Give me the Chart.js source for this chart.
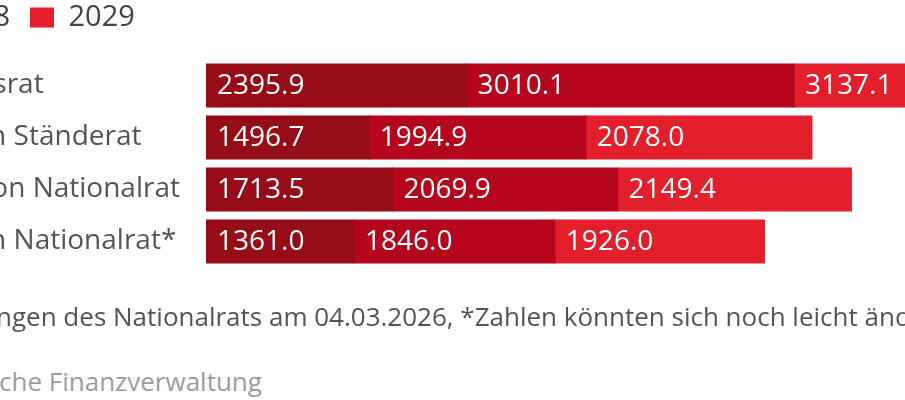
<!DOCTYPE html>
<html>
<head>
<meta charset="utf-8">
<script src="https://cdn.jsdelivr.net/npm/chart.js@4.4.1/dist/chart.umd.min.js"></script>
<style>
  html, body { margin: 0; padding: 0; width: 905px; height: 400px; overflow: hidden; background: #ffffff; }
  #wrap { position: absolute; top: 0; }
  .foot { position: absolute; white-space: nowrap; font-family: "Open Sans", sans-serif; font-size: 26px; line-height: 26px; }
</style>
</head>
<body>
<div id="wrap"><canvas id="c"></canvas></div>
<div id="f1" class="foot" style="color:#50555b; top:303px;"></div>
<div id="f2" class="foot" style="color:#9a9da0; top:368px;"></div>
<script>
// ---- data ----
const categories = ["Bundesrat", "Version Ständerat", "Variation Nationalrat", "Version Nationalrat*"];
const seriesNames = ["2027", "2028", "2029"];
const values2027 = [2395.9, 1496.7, 1713.5, 1361.0];
const values2028 = [3010.1, 1994.9, 2069.9, 1846.0];
const values2029 = [3137.1, 2078.0, 2149.4, 1926.0];
const footNote = "Stand nach Entscheidungen des Nationalrats am 04.03.2026, *Zahlen könnten sich noch leicht ändern.";
const footSource = "Quelle: Eidgenössische Finanzverwaltung";

// ---- styling / layout ----
const seriesColors = ["#960c17", "#b5061d", "#e21f2b"];
const FONT = '"Open Sans", sans-serif';
const labelSize = 28, legendSize = 29, valueSize = 28, footSize = 26;
const chartLeftPage = 206;          // page x where bars start
const pxPerUnit = 0.10878;
const xMax = 9000;

const mctx = document.createElement('canvas').getContext('2d');
function measure(text, size) { mctx.font = size + 'px ' + FONT; return mctx.measureText(text).width; }

// label block left edge (page coords) so that "Version " ends at x≈14
const offsetX = Math.round(14 - measure("Version ", labelSize));
const axisWidth = chartLeftPage - offsetX;
const canvasW = Math.round(axisWidth + xMax * pxPerUnit);
const canvasH = 300;

const wrap = document.getElementById('wrap');
wrap.style.left = offsetX + 'px';
const cv = document.getElementById('c');
cv.width = canvasW; cv.height = canvasH;
cv.style.width = canvasW + 'px'; cv.style.height = canvasH + 'px';

// footer
const f1 = document.getElementById('f1');
f1.textContent = footNote;
f1.style.left = (-measure("Stand nach Entscheidu", footSize) - 4) + 'px';
const f2 = document.getElementById('f2');
f2.textContent = footSource;
f2.style.left = (-measure("Quelle: Eidgenössis", footSize) - 1) + 'px';

const legendShift = {
  id: 'legendShift',
  afterLayout(chart, args, opts) {
    const lg = chart.legend;
    if (!lg) return;
    const lo = chart.options.plugins.legend.labels;
    const fs = lo.font.size, pad = lo.padding, bw = lo.boxWidth;
    let w = 0;
    for (let i = 0; i < 2; i++) w += bw + fs / 2 + measure(seriesNames[i], fs) + pad;
    const targetBox3 = opts.box3X - offsetX;
    const newLeft = targetBox3 - pad - w;
    const dx = newLeft - lg.left;
    lg.left += dx; lg.right += dx;
    lg.top += opts.dy; lg.bottom += opts.dy;
  }
};

const valueLabels = {
  id: 'valueLabels',
  afterDatasetsDraw(chart) {
    const ctx = chart.ctx;
    ctx.save();
    ctx.font = valueSize + 'px ' + FONT;
    ctx.fillStyle = '#ffffff';
    ctx.textBaseline = 'middle';
    ctx.textAlign = 'left';
    chart.data.datasets.forEach((ds, di) => {
      chart.getDatasetMeta(di).data.forEach((bar, i) => {
        const left = Math.min(bar.x, bar.base);
        ctx.fillText(ds.data[i].toFixed(1), left + 11, bar.y + 1);
      });
    });
    ctx.restore();
  }
};

new Chart(cv, {
  type: 'bar',
  data: {
    labels: categories,
    datasets: [
      { label: seriesNames[0], data: values2027, backgroundColor: seriesColors[0] },
      { label: seriesNames[1], data: values2028, backgroundColor: seriesColors[1] },
      { label: seriesNames[2], data: values2029, backgroundColor: seriesColors[2] }
    ]
  },
  options: {
    indexAxis: 'y',
    responsive: false,
    animation: false,
    devicePixelRatio: 1,
    layout: { padding: { top: 0.5, bottom: 32.5, left: 0, right: 0 } },
    datasets: { bar: { barPercentage: 0.82, categoryPercentage: 1.0, borderWidth: 0, inflateAmount: 0.6 } },
    scales: {
      x: { stacked: true, min: 0, max: xMax, display: false },
      y: {
        stacked: true,
        grid: { display: false },
        border: { display: false },
        ticks: {
          crossAlign: 'far',
          color: '#50555b',
          font: { family: FONT, size: labelSize },
          padding: 0
        },
        afterFit(scale) { scale.width = axisWidth; }
      }
    },
    plugins: {
      legend: {
        position: 'top',
        align: 'start',
        labels: {
          boxWidth: 24,
          boxHeight: 20,
          padding: 20,
          color: '#3f4449',
          font: { family: FONT, size: legendSize }
        }
      },
      tooltip: { enabled: false },
      legendShift: { box3X: 30, dy: -17.5 }
    }
  },
  plugins: [legendShift, valueLabels]
});
</script>
</body>
</html>
